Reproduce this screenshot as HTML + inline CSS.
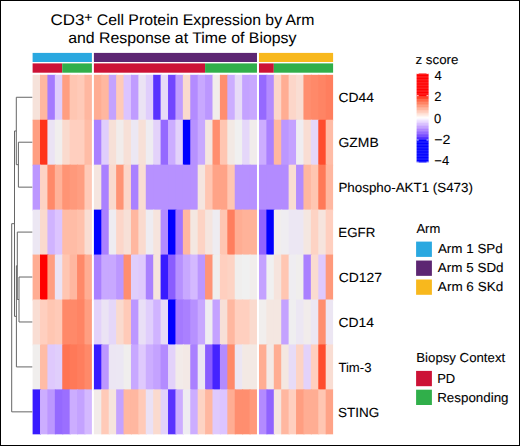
<!DOCTYPE html>
<html><head><meta charset="utf-8"><style>
html,body{margin:0;padding:0;background:#fff;}
#c{position:relative;width:520px;height:446px;overflow:hidden;background:#fff;}
#c svg{position:absolute;left:0;top:0;}
text{font-family:"Liberation Sans",sans-serif;fill:#000;stroke:#000;stroke-width:0.1px;text-rendering:geometricPrecision;}
#b{position:absolute;left:0;top:0;width:518px;height:444px;border:1px solid #000;}
</style></head><body><div id="c">
<svg width="520" height="446" viewBox="0 0 520 446" shape-rendering="auto">
<rect x="32.6" y="74.8" width="8.41" height="45.94" fill="#F6E2DA"/>
<rect x="40.01" y="74.8" width="8.41" height="45.94" fill="#FFB7A0"/>
<rect x="47.42" y="74.8" width="8.41" height="45.94" fill="#A57AFF"/>
<rect x="54.84" y="74.8" width="8.41" height="45.94" fill="#E0CEFC"/>
<rect x="62.25" y="74.8" width="8.41" height="45.94" fill="#FF9E81"/>
<rect x="69.66" y="74.8" width="8.41" height="45.94" fill="#FFC6B2"/>
<rect x="77.07" y="74.8" width="8.41" height="45.94" fill="#FFCAB8"/>
<rect x="84.49" y="74.8" width="7.41" height="45.94" fill="#FFB7A0"/>
<rect x="93.9" y="74.8" width="8.41" height="45.94" fill="#FFAD93"/>
<rect x="101.31" y="74.8" width="8.41" height="45.94" fill="#FFB7A0"/>
<rect x="108.73" y="74.8" width="8.41" height="45.94" fill="#C4A2FF"/>
<rect x="116.14" y="74.8" width="8.41" height="45.94" fill="#FFCAB8"/>
<rect x="123.55" y="74.8" width="8.41" height="45.94" fill="#DCC4FF"/>
<rect x="130.96" y="74.8" width="8.41" height="45.94" fill="#C09CFF"/>
<rect x="138.38" y="74.8" width="8.41" height="45.94" fill="#EBE3F4"/>
<rect x="145.79" y="74.8" width="8.41" height="45.94" fill="#E0CEFC"/>
<rect x="153.2" y="74.8" width="8.41" height="45.94" fill="#5932FF"/>
<rect x="160.61" y="74.8" width="8.41" height="45.94" fill="#E7DBF7"/>
<rect x="168.03" y="74.8" width="8.41" height="45.94" fill="#7145FF"/>
<rect x="175.44" y="74.8" width="8.41" height="45.94" fill="#C09CFF"/>
<rect x="182.85" y="74.8" width="8.41" height="45.94" fill="#FADACE"/>
<rect x="190.26" y="74.8" width="8.41" height="45.94" fill="#B38BFF"/>
<rect x="197.68" y="74.8" width="8.41" height="45.94" fill="#C8A8FF"/>
<rect x="205.09" y="74.8" width="8.41" height="45.94" fill="#BC97FF"/>
<rect x="212.5" y="74.8" width="8.41" height="45.94" fill="#F1ECEB"/>
<rect x="219.91" y="74.8" width="8.41" height="45.94" fill="#FF8E6F"/>
<rect x="227.32" y="74.8" width="8.41" height="45.94" fill="#CCADFF"/>
<rect x="234.74" y="74.8" width="8.41" height="45.94" fill="#E7DBF7"/>
<rect x="242.15" y="74.8" width="8.41" height="45.94" fill="#C4A2FF"/>
<rect x="249.56" y="74.8" width="7.41" height="45.94" fill="#C8A8FF"/>
<rect x="258.98" y="74.8" width="8.41" height="45.94" fill="#9569FF"/>
<rect x="266.39" y="74.8" width="8.41" height="45.94" fill="#B38BFF"/>
<rect x="273.8" y="74.8" width="8.41" height="45.94" fill="#FCD6C9"/>
<rect x="281.21" y="74.8" width="8.41" height="45.94" fill="#FFAD93"/>
<rect x="288.62" y="74.8" width="8.41" height="45.94" fill="#FCD6C9"/>
<rect x="296.04" y="74.8" width="8.41" height="45.94" fill="#F9DDD3"/>
<rect x="303.45" y="74.8" width="8.41" height="45.94" fill="#FF8E6F"/>
<rect x="310.86" y="74.8" width="8.41" height="45.94" fill="#FF8969"/>
<rect x="318.28" y="74.8" width="8.41" height="45.94" fill="#FF8464"/>
<rect x="325.69" y="74.8" width="7.41" height="45.94" fill="#FF7E5E"/>
<rect x="32.6" y="119.74" width="8.41" height="45.94" fill="#FF9E81"/>
<rect x="40.01" y="119.74" width="8.41" height="45.94" fill="#FF341B"/>
<rect x="47.42" y="119.74" width="8.41" height="45.94" fill="#EBE3F4"/>
<rect x="54.84" y="119.74" width="8.41" height="45.94" fill="#F1EEED"/>
<rect x="62.25" y="119.74" width="8.41" height="45.94" fill="#FADACE"/>
<rect x="69.66" y="119.74" width="8.41" height="45.94" fill="#FFCFBF"/>
<rect x="77.07" y="119.74" width="8.41" height="45.94" fill="#FFCFBF"/>
<rect x="84.49" y="119.74" width="7.41" height="45.94" fill="#FFBCA6"/>
<rect x="93.9" y="119.74" width="8.41" height="45.94" fill="#AA80FF"/>
<rect x="101.31" y="119.74" width="8.41" height="45.94" fill="#E0CEFC"/>
<rect x="108.73" y="119.74" width="8.41" height="45.94" fill="#F7E0D7"/>
<rect x="116.14" y="119.74" width="8.41" height="45.94" fill="#F1ECEB"/>
<rect x="123.55" y="119.74" width="8.41" height="45.94" fill="#F7E0D7"/>
<rect x="130.96" y="119.74" width="8.41" height="45.94" fill="#ECE7F3"/>
<rect x="138.38" y="119.74" width="8.41" height="45.94" fill="#F7E0D7"/>
<rect x="145.79" y="119.74" width="8.41" height="45.94" fill="#EEECF1"/>
<rect x="153.2" y="119.74" width="8.41" height="45.94" fill="#E3D2FA"/>
<rect x="160.61" y="119.74" width="8.41" height="45.94" fill="#9569FF"/>
<rect x="168.03" y="119.74" width="8.41" height="45.94" fill="#CCADFF"/>
<rect x="175.44" y="119.74" width="8.41" height="45.94" fill="#E3D2FA"/>
<rect x="182.85" y="119.74" width="8.41" height="45.94" fill="#0000FF"/>
<rect x="190.26" y="119.74" width="8.41" height="45.94" fill="#B791FF"/>
<rect x="197.68" y="119.74" width="8.41" height="45.94" fill="#C8A8FF"/>
<rect x="205.09" y="119.74" width="8.41" height="45.94" fill="#F5E5DF"/>
<rect x="212.5" y="119.74" width="8.41" height="45.94" fill="#FF8E6F"/>
<rect x="219.91" y="119.74" width="8.41" height="45.94" fill="#FFC6B2"/>
<rect x="227.32" y="119.74" width="8.41" height="45.94" fill="#F3E9E4"/>
<rect x="234.74" y="119.74" width="8.41" height="45.94" fill="#F0F0F0"/>
<rect x="242.15" y="119.74" width="8.41" height="45.94" fill="#E5D7F9"/>
<rect x="249.56" y="119.74" width="7.41" height="45.94" fill="#F1ECEB"/>
<rect x="258.98" y="119.74" width="8.41" height="45.94" fill="#CCADFF"/>
<rect x="266.39" y="119.74" width="8.41" height="45.94" fill="#AA80FF"/>
<rect x="273.8" y="119.74" width="8.41" height="45.94" fill="#FFB7A0"/>
<rect x="281.21" y="119.74" width="8.41" height="45.94" fill="#BC97FF"/>
<rect x="288.62" y="119.74" width="8.41" height="45.94" fill="#C4A2FF"/>
<rect x="296.04" y="119.74" width="8.41" height="45.94" fill="#EFEDF1"/>
<rect x="303.45" y="119.74" width="8.41" height="45.94" fill="#F9DDD3"/>
<rect x="310.86" y="119.74" width="8.41" height="45.94" fill="#E5D7F9"/>
<rect x="318.28" y="119.74" width="8.41" height="45.94" fill="#FF4D2E"/>
<rect x="325.69" y="119.74" width="7.41" height="45.94" fill="#FFBCA6"/>
<rect x="32.6" y="164.68" width="8.41" height="45.94" fill="#BC97FF"/>
<rect x="40.01" y="164.68" width="8.41" height="45.94" fill="#FDD3C4"/>
<rect x="47.42" y="164.68" width="8.41" height="45.94" fill="#FF8969"/>
<rect x="54.84" y="164.68" width="8.41" height="45.94" fill="#FFB299"/>
<rect x="62.25" y="164.68" width="8.41" height="45.94" fill="#FF9475"/>
<rect x="69.66" y="164.68" width="8.41" height="45.94" fill="#FF997B"/>
<rect x="77.07" y="164.68" width="8.41" height="45.94" fill="#FF9E81"/>
<rect x="84.49" y="164.68" width="7.41" height="45.94" fill="#FFCAB8"/>
<rect x="93.9" y="164.68" width="8.41" height="45.94" fill="#F5E5DF"/>
<rect x="101.31" y="164.68" width="8.41" height="45.94" fill="#AA80FF"/>
<rect x="108.73" y="164.68" width="8.41" height="45.94" fill="#FADACE"/>
<rect x="116.14" y="164.68" width="8.41" height="45.94" fill="#FF9475"/>
<rect x="123.55" y="164.68" width="8.41" height="45.94" fill="#FCD6C9"/>
<rect x="130.96" y="164.68" width="8.41" height="45.94" fill="#AA80FF"/>
<rect x="138.38" y="164.68" width="8.41" height="45.94" fill="#F9DDD3"/>
<rect x="145.79" y="164.68" width="8.41" height="45.94" fill="#B791FF"/>
<rect x="153.2" y="164.68" width="8.41" height="45.94" fill="#B791FF"/>
<rect x="160.61" y="164.68" width="8.41" height="45.94" fill="#B791FF"/>
<rect x="168.03" y="164.68" width="8.41" height="45.94" fill="#B791FF"/>
<rect x="175.44" y="164.68" width="8.41" height="45.94" fill="#B791FF"/>
<rect x="182.85" y="164.68" width="8.41" height="45.94" fill="#B791FF"/>
<rect x="190.26" y="164.68" width="8.41" height="45.94" fill="#B791FF"/>
<rect x="197.68" y="164.68" width="8.41" height="45.94" fill="#F5E5DF"/>
<rect x="205.09" y="164.68" width="8.41" height="45.94" fill="#FFC6B2"/>
<rect x="212.5" y="164.68" width="8.41" height="45.94" fill="#FFA387"/>
<rect x="219.91" y="164.68" width="8.41" height="45.94" fill="#FFA387"/>
<rect x="227.32" y="164.68" width="8.41" height="45.94" fill="#FFC6B2"/>
<rect x="234.74" y="164.68" width="8.41" height="45.94" fill="#B791FF"/>
<rect x="242.15" y="164.68" width="8.41" height="45.94" fill="#B791FF"/>
<rect x="249.56" y="164.68" width="7.41" height="45.94" fill="#B791FF"/>
<rect x="258.98" y="164.68" width="8.41" height="45.94" fill="#B38BFF"/>
<rect x="266.39" y="164.68" width="8.41" height="45.94" fill="#B38BFF"/>
<rect x="273.8" y="164.68" width="8.41" height="45.94" fill="#B38BFF"/>
<rect x="281.21" y="164.68" width="8.41" height="45.94" fill="#B38BFF"/>
<rect x="288.62" y="164.68" width="8.41" height="45.94" fill="#F9DDD3"/>
<rect x="296.04" y="164.68" width="8.41" height="45.94" fill="#B38BFF"/>
<rect x="303.45" y="164.68" width="8.41" height="45.94" fill="#FFB7A0"/>
<rect x="310.86" y="164.68" width="8.41" height="45.94" fill="#FFC6B2"/>
<rect x="318.28" y="164.68" width="8.41" height="45.94" fill="#FF7958"/>
<rect x="325.69" y="164.68" width="7.41" height="45.94" fill="#FFB7A0"/>
<rect x="32.6" y="209.62" width="8.41" height="45.94" fill="#ECE7F3"/>
<rect x="40.01" y="209.62" width="8.41" height="45.94" fill="#FADACE"/>
<rect x="47.42" y="209.62" width="8.41" height="45.94" fill="#D0B3FF"/>
<rect x="54.84" y="209.62" width="8.41" height="45.94" fill="#DCC4FF"/>
<rect x="62.25" y="209.62" width="8.41" height="45.94" fill="#FFBCA6"/>
<rect x="69.66" y="209.62" width="8.41" height="45.94" fill="#FFBCA6"/>
<rect x="77.07" y="209.62" width="8.41" height="45.94" fill="#FFC1AC"/>
<rect x="84.49" y="209.62" width="7.41" height="45.94" fill="#F9DDD3"/>
<rect x="93.9" y="209.62" width="8.41" height="45.94" fill="#0000FF"/>
<rect x="101.31" y="209.62" width="8.41" height="45.94" fill="#AA80FF"/>
<rect x="108.73" y="209.62" width="8.41" height="45.94" fill="#EEECF1"/>
<rect x="116.14" y="209.62" width="8.41" height="45.94" fill="#FCD6C9"/>
<rect x="123.55" y="209.62" width="8.41" height="45.94" fill="#F7E0D7"/>
<rect x="130.96" y="209.62" width="8.41" height="45.94" fill="#FFB7A0"/>
<rect x="138.38" y="209.62" width="8.41" height="45.94" fill="#FADACE"/>
<rect x="145.79" y="209.62" width="8.41" height="45.94" fill="#EEECF1"/>
<rect x="153.2" y="209.62" width="8.41" height="45.94" fill="#F6E4DD"/>
<rect x="160.61" y="209.62" width="8.41" height="45.94" fill="#B38BFF"/>
<rect x="168.03" y="209.62" width="8.41" height="45.94" fill="#0000FF"/>
<rect x="175.44" y="209.62" width="8.41" height="45.94" fill="#A074FF"/>
<rect x="182.85" y="209.62" width="8.41" height="45.94" fill="#FFB7A0"/>
<rect x="190.26" y="209.62" width="8.41" height="45.94" fill="#F4E7E1"/>
<rect x="197.68" y="209.62" width="8.41" height="45.94" fill="#FDD3C4"/>
<rect x="205.09" y="209.62" width="8.41" height="45.94" fill="#F5E5DF"/>
<rect x="212.5" y="209.62" width="8.41" height="45.94" fill="#EEECF1"/>
<rect x="219.91" y="209.62" width="8.41" height="45.94" fill="#FFC6B2"/>
<rect x="227.32" y="209.62" width="8.41" height="45.94" fill="#FF7E5E"/>
<rect x="234.74" y="209.62" width="8.41" height="45.94" fill="#FFAD93"/>
<rect x="242.15" y="209.62" width="8.41" height="45.94" fill="#FFB299"/>
<rect x="249.56" y="209.62" width="7.41" height="45.94" fill="#FFB299"/>
<rect x="258.98" y="209.62" width="8.41" height="45.94" fill="#9063FF"/>
<rect x="266.39" y="209.62" width="8.41" height="45.94" fill="#0000FF"/>
<rect x="273.8" y="209.62" width="8.41" height="45.94" fill="#F1EEED"/>
<rect x="281.21" y="209.62" width="8.41" height="45.94" fill="#EFEDF1"/>
<rect x="288.62" y="209.62" width="8.41" height="45.94" fill="#ECE7F3"/>
<rect x="296.04" y="209.62" width="8.41" height="45.94" fill="#ECE7F3"/>
<rect x="303.45" y="209.62" width="8.41" height="45.94" fill="#F4E7E1"/>
<rect x="310.86" y="209.62" width="8.41" height="45.94" fill="#FDD3C4"/>
<rect x="318.28" y="209.62" width="8.41" height="45.94" fill="#F6E4DD"/>
<rect x="325.69" y="209.62" width="7.41" height="45.94" fill="#FFCFBF"/>
<rect x="32.6" y="254.56" width="8.41" height="45.94" fill="#FFAD93"/>
<rect x="40.01" y="254.56" width="8.41" height="45.94" fill="#FF0000"/>
<rect x="47.42" y="254.56" width="8.41" height="45.94" fill="#FF9E81"/>
<rect x="54.84" y="254.56" width="8.41" height="45.94" fill="#EBE3F4"/>
<rect x="62.25" y="254.56" width="8.41" height="45.94" fill="#FFC6B2"/>
<rect x="69.66" y="254.56" width="8.41" height="45.94" fill="#FFB7A0"/>
<rect x="77.07" y="254.56" width="8.41" height="45.94" fill="#FF8969"/>
<rect x="84.49" y="254.56" width="7.41" height="45.94" fill="#FFAD93"/>
<rect x="93.9" y="254.56" width="8.41" height="45.94" fill="#AA80FF"/>
<rect x="101.31" y="254.56" width="8.41" height="45.94" fill="#C8A8FF"/>
<rect x="108.73" y="254.56" width="8.41" height="45.94" fill="#C8A8FF"/>
<rect x="116.14" y="254.56" width="8.41" height="45.94" fill="#BC97FF"/>
<rect x="123.55" y="254.56" width="8.41" height="45.94" fill="#FF8E6F"/>
<rect x="130.96" y="254.56" width="8.41" height="45.94" fill="#E0CEFC"/>
<rect x="138.38" y="254.56" width="8.41" height="45.94" fill="#DFC9FD"/>
<rect x="145.79" y="254.56" width="8.41" height="45.94" fill="#AA80FF"/>
<rect x="153.2" y="254.56" width="8.41" height="45.94" fill="#F6E4DD"/>
<rect x="160.61" y="254.56" width="8.41" height="45.94" fill="#381BFF"/>
<rect x="168.03" y="254.56" width="8.41" height="45.94" fill="#8A5DFF"/>
<rect x="175.44" y="254.56" width="8.41" height="45.94" fill="#B791FF"/>
<rect x="182.85" y="254.56" width="8.41" height="45.94" fill="#C8A8FF"/>
<rect x="190.26" y="254.56" width="8.41" height="45.94" fill="#D4B9FF"/>
<rect x="197.68" y="254.56" width="8.41" height="45.94" fill="#BC97FF"/>
<rect x="205.09" y="254.56" width="8.41" height="45.94" fill="#FF9475"/>
<rect x="212.5" y="254.56" width="8.41" height="45.94" fill="#F0EEED"/>
<rect x="219.91" y="254.56" width="8.41" height="45.94" fill="#FFCFBF"/>
<rect x="227.32" y="254.56" width="8.41" height="45.94" fill="#FDD3C4"/>
<rect x="234.74" y="254.56" width="8.41" height="45.94" fill="#F0EEED"/>
<rect x="242.15" y="254.56" width="8.41" height="45.94" fill="#F0F0F0"/>
<rect x="249.56" y="254.56" width="7.41" height="45.94" fill="#F1EDEC"/>
<rect x="258.98" y="254.56" width="8.41" height="45.94" fill="#C4A2FF"/>
<rect x="266.39" y="254.56" width="8.41" height="45.94" fill="#F0F0F0"/>
<rect x="273.8" y="254.56" width="8.41" height="45.94" fill="#F6E4DD"/>
<rect x="281.21" y="254.56" width="8.41" height="45.94" fill="#FFC6B2"/>
<rect x="288.62" y="254.56" width="8.41" height="45.94" fill="#EFEDF1"/>
<rect x="296.04" y="254.56" width="8.41" height="45.94" fill="#F0EEED"/>
<rect x="303.45" y="254.56" width="8.41" height="45.94" fill="#AA80FF"/>
<rect x="310.86" y="254.56" width="8.41" height="45.94" fill="#FADBD0"/>
<rect x="318.28" y="254.56" width="8.41" height="45.94" fill="#DFC9FD"/>
<rect x="325.69" y="254.56" width="7.41" height="45.94" fill="#FF997B"/>
<rect x="32.6" y="299.5" width="8.41" height="45.94" fill="#F9DDD3"/>
<rect x="40.01" y="299.5" width="8.41" height="45.94" fill="#FFCFBF"/>
<rect x="47.42" y="299.5" width="8.41" height="45.94" fill="#FFC6B2"/>
<rect x="54.84" y="299.5" width="8.41" height="45.94" fill="#FFCAB8"/>
<rect x="62.25" y="299.5" width="8.41" height="45.94" fill="#FF8969"/>
<rect x="69.66" y="299.5" width="8.41" height="45.94" fill="#FF8969"/>
<rect x="77.07" y="299.5" width="8.41" height="45.94" fill="#FF8464"/>
<rect x="84.49" y="299.5" width="7.41" height="45.94" fill="#FF9E81"/>
<rect x="93.9" y="299.5" width="8.41" height="45.94" fill="#E3D2FA"/>
<rect x="101.31" y="299.5" width="8.41" height="45.94" fill="#EBE3F4"/>
<rect x="108.73" y="299.5" width="8.41" height="45.94" fill="#E5D7F9"/>
<rect x="116.14" y="299.5" width="8.41" height="45.94" fill="#FADACE"/>
<rect x="123.55" y="299.5" width="8.41" height="45.94" fill="#FFCAB8"/>
<rect x="130.96" y="299.5" width="8.41" height="45.94" fill="#BC97FF"/>
<rect x="138.38" y="299.5" width="8.41" height="45.94" fill="#E9DFF6"/>
<rect x="145.79" y="299.5" width="8.41" height="45.94" fill="#E0CEFC"/>
<rect x="153.2" y="299.5" width="8.41" height="45.94" fill="#D0B3FF"/>
<rect x="160.61" y="299.5" width="8.41" height="45.94" fill="#E7DBF7"/>
<rect x="168.03" y="299.5" width="8.41" height="45.94" fill="#0000FF"/>
<rect x="175.44" y="299.5" width="8.41" height="45.94" fill="#A57AFF"/>
<rect x="182.85" y="299.5" width="8.41" height="45.94" fill="#AA80FF"/>
<rect x="190.26" y="299.5" width="8.41" height="45.94" fill="#B791FF"/>
<rect x="197.68" y="299.5" width="8.41" height="45.94" fill="#C8A8FF"/>
<rect x="205.09" y="299.5" width="8.41" height="45.94" fill="#EFEDF1"/>
<rect x="212.5" y="299.5" width="8.41" height="45.94" fill="#C4A2FF"/>
<rect x="219.91" y="299.5" width="8.41" height="45.94" fill="#F7E0D7"/>
<rect x="227.32" y="299.5" width="8.41" height="45.94" fill="#FFB7A0"/>
<rect x="234.74" y="299.5" width="8.41" height="45.94" fill="#FFCFBF"/>
<rect x="242.15" y="299.5" width="8.41" height="45.94" fill="#FFCFBF"/>
<rect x="249.56" y="299.5" width="7.41" height="45.94" fill="#FADACE"/>
<rect x="258.98" y="299.5" width="8.41" height="45.94" fill="#F1EEED"/>
<rect x="266.39" y="299.5" width="8.41" height="45.94" fill="#F4E7E1"/>
<rect x="273.8" y="299.5" width="8.41" height="45.94" fill="#F4E7E1"/>
<rect x="281.21" y="299.5" width="8.41" height="45.94" fill="#C4A2FF"/>
<rect x="288.62" y="299.5" width="8.41" height="45.94" fill="#EFEEF0"/>
<rect x="296.04" y="299.5" width="8.41" height="45.94" fill="#ECE7F3"/>
<rect x="303.45" y="299.5" width="8.41" height="45.94" fill="#F1ECEB"/>
<rect x="310.86" y="299.5" width="8.41" height="45.94" fill="#ECE7F3"/>
<rect x="318.28" y="299.5" width="8.41" height="45.94" fill="#FF8E6F"/>
<rect x="325.69" y="299.5" width="7.41" height="45.94" fill="#ECE6F3"/>
<rect x="32.6" y="344.44" width="8.41" height="45.94" fill="#F0EEED"/>
<rect x="40.01" y="344.44" width="8.41" height="45.94" fill="#FFBCA6"/>
<rect x="47.42" y="344.44" width="8.41" height="45.94" fill="#DFC9FD"/>
<rect x="54.84" y="344.44" width="8.41" height="45.94" fill="#E0CEFC"/>
<rect x="62.25" y="344.44" width="8.41" height="45.94" fill="#FF7352"/>
<rect x="69.66" y="344.44" width="8.41" height="45.94" fill="#FF7958"/>
<rect x="77.07" y="344.44" width="8.41" height="45.94" fill="#FF7E5E"/>
<rect x="84.49" y="344.44" width="7.41" height="45.94" fill="#FF8969"/>
<rect x="93.9" y="344.44" width="8.41" height="45.94" fill="#381BFF"/>
<rect x="101.31" y="344.44" width="8.41" height="45.94" fill="#BC97FF"/>
<rect x="108.73" y="344.44" width="8.41" height="45.94" fill="#ECE6F3"/>
<rect x="116.14" y="344.44" width="8.41" height="45.94" fill="#ECE7F3"/>
<rect x="123.55" y="344.44" width="8.41" height="45.94" fill="#F0EEED"/>
<rect x="130.96" y="344.44" width="8.41" height="45.94" fill="#C8A8FF"/>
<rect x="138.38" y="344.44" width="8.41" height="45.94" fill="#DFC9FD"/>
<rect x="145.79" y="344.44" width="8.41" height="45.94" fill="#CCADFF"/>
<rect x="153.2" y="344.44" width="8.41" height="45.94" fill="#C4A2FF"/>
<rect x="160.61" y="344.44" width="8.41" height="45.94" fill="#B38BFF"/>
<rect x="168.03" y="344.44" width="8.41" height="45.94" fill="#E3D2FA"/>
<rect x="175.44" y="344.44" width="8.41" height="45.94" fill="#F2EBE9"/>
<rect x="182.85" y="344.44" width="8.41" height="45.94" fill="#F3E9E6"/>
<rect x="190.26" y="344.44" width="8.41" height="45.94" fill="#AA80FF"/>
<rect x="197.68" y="344.44" width="8.41" height="45.94" fill="#ECE6F3"/>
<rect x="205.09" y="344.44" width="8.41" height="45.94" fill="#8A5DFF"/>
<rect x="212.5" y="344.44" width="8.41" height="45.94" fill="#4523FF"/>
<rect x="219.91" y="344.44" width="8.41" height="45.94" fill="#B38BFF"/>
<rect x="227.32" y="344.44" width="8.41" height="45.94" fill="#FF8969"/>
<rect x="234.74" y="344.44" width="8.41" height="45.94" fill="#ECE6F3"/>
<rect x="242.15" y="344.44" width="8.41" height="45.94" fill="#F3E9E4"/>
<rect x="249.56" y="344.44" width="7.41" height="45.94" fill="#F3E9E4"/>
<rect x="258.98" y="344.44" width="8.41" height="45.94" fill="#FFAD93"/>
<rect x="266.39" y="344.44" width="8.41" height="45.94" fill="#F3E9E6"/>
<rect x="273.8" y="344.44" width="8.41" height="45.94" fill="#FFAD93"/>
<rect x="281.21" y="344.44" width="8.41" height="45.94" fill="#F4E7E1"/>
<rect x="288.62" y="344.44" width="8.41" height="45.94" fill="#E7DBF7"/>
<rect x="296.04" y="344.44" width="8.41" height="45.94" fill="#FDD3C4"/>
<rect x="303.45" y="344.44" width="8.41" height="45.94" fill="#E3D2FA"/>
<rect x="310.86" y="344.44" width="8.41" height="45.94" fill="#FFCFBF"/>
<rect x="318.28" y="344.44" width="8.41" height="45.94" fill="#FF4D2E"/>
<rect x="325.69" y="344.44" width="7.41" height="45.94" fill="#F9DDD3"/>
<rect x="32.6" y="389.38" width="8.41" height="44.94" fill="#381BFF"/>
<rect x="40.01" y="389.38" width="8.41" height="44.94" fill="#CCADFF"/>
<rect x="47.42" y="389.38" width="8.41" height="44.94" fill="#BC97FF"/>
<rect x="54.84" y="389.38" width="8.41" height="44.94" fill="#9569FF"/>
<rect x="62.25" y="389.38" width="8.41" height="44.94" fill="#9B6FFF"/>
<rect x="69.66" y="389.38" width="8.41" height="44.94" fill="#CCADFF"/>
<rect x="77.07" y="389.38" width="8.41" height="44.94" fill="#C4A2FF"/>
<rect x="84.49" y="389.38" width="7.41" height="44.94" fill="#D4B9FF"/>
<rect x="93.9" y="389.38" width="8.41" height="44.94" fill="#F2EBE9"/>
<rect x="101.31" y="389.38" width="8.41" height="44.94" fill="#FFCAB8"/>
<rect x="108.73" y="389.38" width="8.41" height="44.94" fill="#F6E4DD"/>
<rect x="116.14" y="389.38" width="8.41" height="44.94" fill="#C4A2FF"/>
<rect x="123.55" y="389.38" width="8.41" height="44.94" fill="#FFB7A0"/>
<rect x="130.96" y="389.38" width="8.41" height="44.94" fill="#FFB7A0"/>
<rect x="138.38" y="389.38" width="8.41" height="44.94" fill="#FFCAB8"/>
<rect x="145.79" y="389.38" width="8.41" height="44.94" fill="#EAE1F5"/>
<rect x="153.2" y="389.38" width="8.41" height="44.94" fill="#FADACE"/>
<rect x="160.61" y="389.38" width="8.41" height="44.94" fill="#E3D2FA"/>
<rect x="168.03" y="389.38" width="8.41" height="44.94" fill="#5932FF"/>
<rect x="175.44" y="389.38" width="8.41" height="44.94" fill="#CCADFF"/>
<rect x="182.85" y="389.38" width="8.41" height="44.94" fill="#EEECF1"/>
<rect x="190.26" y="389.38" width="8.41" height="44.94" fill="#CCADFF"/>
<rect x="197.68" y="389.38" width="8.41" height="44.94" fill="#FDD3C4"/>
<rect x="205.09" y="389.38" width="8.41" height="44.94" fill="#FFB7A0"/>
<rect x="212.5" y="389.38" width="8.41" height="44.94" fill="#DFC9FD"/>
<rect x="219.91" y="389.38" width="8.41" height="44.94" fill="#DCC4FF"/>
<rect x="227.32" y="389.38" width="8.41" height="44.94" fill="#FFAD93"/>
<rect x="234.74" y="389.38" width="8.41" height="44.94" fill="#FF8E6F"/>
<rect x="242.15" y="389.38" width="8.41" height="44.94" fill="#FF8E6F"/>
<rect x="249.56" y="389.38" width="7.41" height="44.94" fill="#FF997B"/>
<rect x="258.98" y="389.38" width="8.41" height="44.94" fill="#B38BFF"/>
<rect x="266.39" y="389.38" width="8.41" height="44.94" fill="#9063FF"/>
<rect x="273.8" y="389.38" width="8.41" height="44.94" fill="#F5E5DF"/>
<rect x="281.21" y="389.38" width="8.41" height="44.94" fill="#FFB7A0"/>
<rect x="288.62" y="389.38" width="8.41" height="44.94" fill="#FFCFBF"/>
<rect x="296.04" y="389.38" width="8.41" height="44.94" fill="#FF9E81"/>
<rect x="303.45" y="389.38" width="8.41" height="44.94" fill="#FFAD93"/>
<rect x="310.86" y="389.38" width="8.41" height="44.94" fill="#FFAD93"/>
<rect x="318.28" y="389.38" width="8.41" height="44.94" fill="#FFC6B2"/>
<rect x="325.69" y="389.38" width="7.41" height="44.94" fill="#FFA387"/>
<rect x="32.6" y="52.9" width="59.3" height="9.1" fill="#2AA8E0"/>
<rect x="93.9" y="52.9" width="163.08" height="9.1" fill="#5C2672"/>
<rect x="258.98" y="52.9" width="74.12" height="9.1" fill="#F8B81D"/>
<rect x="32.6" y="63.4" width="29.65" height="9.3" fill="#CC1236"/>
<rect x="62.25" y="63.4" width="29.65" height="9.3" fill="#30AF4A"/>
<rect x="93.9" y="63.4" width="111.19" height="9.3" fill="#CC1236"/>
<rect x="205.09" y="63.4" width="51.89" height="9.3" fill="#30AF4A"/>
<rect x="258.98" y="63.4" width="14.82" height="9.3" fill="#CC1236"/>
<rect x="273.8" y="63.4" width="59.3" height="9.3" fill="#30AF4A"/>
<line x1="18.4" y1="142.21" x2="32.3" y2="142.21" stroke="#666" stroke-width="1"/>
<line x1="18.4" y1="187.15" x2="32.3" y2="187.15" stroke="#666" stroke-width="1"/>
<line x1="18.4" y1="142.21" x2="18.4" y2="187.15" stroke="#666" stroke-width="1"/>
<line x1="16.3" y1="97.27" x2="32.3" y2="97.27" stroke="#666" stroke-width="1"/>
<line x1="16.3" y1="164.68" x2="18.4" y2="164.68" stroke="#666" stroke-width="1"/>
<line x1="16.3" y1="97.27" x2="16.3" y2="164.68" stroke="#666" stroke-width="1"/>
<line x1="19.0" y1="277.03" x2="32.3" y2="277.03" stroke="#666" stroke-width="1"/>
<line x1="19.0" y1="321.97" x2="32.3" y2="321.97" stroke="#666" stroke-width="1"/>
<line x1="19.0" y1="277.03" x2="19.0" y2="321.97" stroke="#666" stroke-width="1"/>
<line x1="17.3" y1="232.09" x2="32.3" y2="232.09" stroke="#666" stroke-width="1"/>
<line x1="17.3" y1="299.5" x2="19.0" y2="299.5" stroke="#666" stroke-width="1"/>
<line x1="17.3" y1="232.09" x2="17.3" y2="299.5" stroke="#666" stroke-width="1"/>
<line x1="16.4" y1="265.79" x2="17.3" y2="265.79" stroke="#666" stroke-width="1"/>
<line x1="16.4" y1="366.91" x2="32.3" y2="366.91" stroke="#666" stroke-width="1"/>
<line x1="16.4" y1="265.79" x2="16.4" y2="366.91" stroke="#666" stroke-width="1"/>
<line x1="14.5" y1="130.97" x2="16.3" y2="130.97" stroke="#666" stroke-width="1"/>
<line x1="14.5" y1="316.35" x2="16.4" y2="316.35" stroke="#666" stroke-width="1"/>
<line x1="14.5" y1="130.97" x2="14.5" y2="316.35" stroke="#666" stroke-width="1"/>
<line x1="11.7" y1="223.66" x2="14.5" y2="223.66" stroke="#666" stroke-width="1"/>
<line x1="11.7" y1="411.85" x2="32.3" y2="411.85" stroke="#666" stroke-width="1"/>
<line x1="11.7" y1="223.66" x2="11.7" y2="411.85" stroke="#666" stroke-width="1"/>
<rect x="416.7" y="73.5" width="11.8" height="1.04" fill="#FF0000"/>
<rect x="416.7" y="74.24" width="11.8" height="1.04" fill="#FF0000"/>
<rect x="416.7" y="74.98" width="11.8" height="1.04" fill="#FF0000"/>
<rect x="416.7" y="75.72" width="11.8" height="1.04" fill="#FF0000"/>
<rect x="416.7" y="76.46" width="11.8" height="1.04" fill="#FF0000"/>
<rect x="416.7" y="77.2" width="11.8" height="1.04" fill="#FF0000"/>
<rect x="416.7" y="77.94" width="11.8" height="1.04" fill="#FF0000"/>
<rect x="416.7" y="78.67" width="11.8" height="1.04" fill="#FF0000"/>
<rect x="416.7" y="79.41" width="11.8" height="1.04" fill="#FF0000"/>
<rect x="416.7" y="80.15" width="11.8" height="1.04" fill="#FF0000"/>
<rect x="416.7" y="80.89" width="11.8" height="1.04" fill="#FF0000"/>
<rect x="416.7" y="81.63" width="11.8" height="1.04" fill="#FF0000"/>
<rect x="416.7" y="82.37" width="11.8" height="1.04" fill="#FF0000"/>
<rect x="416.7" y="83.11" width="11.8" height="1.04" fill="#FF0000"/>
<rect x="416.7" y="83.85" width="11.8" height="1.04" fill="#FF0000"/>
<rect x="416.7" y="84.59" width="11.8" height="1.04" fill="#FF0000"/>
<rect x="416.7" y="85.33" width="11.8" height="1.04" fill="#FF0000"/>
<rect x="416.7" y="86.07" width="11.8" height="1.04" fill="#FF0000"/>
<rect x="416.7" y="86.81" width="11.8" height="1.04" fill="#FF0000"/>
<rect x="416.7" y="87.54" width="11.8" height="1.04" fill="#FF0000"/>
<rect x="416.7" y="88.28" width="11.8" height="1.04" fill="#FF0000"/>
<rect x="416.7" y="89.02" width="11.8" height="1.04" fill="#FF0000"/>
<rect x="416.7" y="89.76" width="11.8" height="1.04" fill="#FF0000"/>
<rect x="416.7" y="90.5" width="11.8" height="1.04" fill="#FF0000"/>
<rect x="416.7" y="91.24" width="11.8" height="1.04" fill="#FF0000"/>
<rect x="416.7" y="91.98" width="11.8" height="1.04" fill="#FF0000"/>
<rect x="416.7" y="92.72" width="11.8" height="1.04" fill="#FF0000"/>
<rect x="416.7" y="93.46" width="11.8" height="1.04" fill="#FF0000"/>
<rect x="416.7" y="94.2" width="11.8" height="1.04" fill="#FF0000"/>
<rect x="416.7" y="94.94" width="11.8" height="1.04" fill="#FF0000"/>
<rect x="416.7" y="95.67" width="11.8" height="1.04" fill="#FF1506"/>
<rect x="416.7" y="96.41" width="11.8" height="1.04" fill="#FF2913"/>
<rect x="416.7" y="97.15" width="11.8" height="1.04" fill="#FF381D"/>
<rect x="416.7" y="97.89" width="11.8" height="1.04" fill="#FF4326"/>
<rect x="416.7" y="98.63" width="11.8" height="1.04" fill="#FF4D2E"/>
<rect x="416.7" y="99.37" width="11.8" height="1.04" fill="#FF5736"/>
<rect x="416.7" y="100.11" width="11.8" height="1.04" fill="#FF5F3E"/>
<rect x="416.7" y="100.85" width="11.8" height="1.04" fill="#FF6846"/>
<rect x="416.7" y="101.59" width="11.8" height="1.04" fill="#FF6F4E"/>
<rect x="416.7" y="102.33" width="11.8" height="1.04" fill="#FF7756"/>
<rect x="416.7" y="103.07" width="11.8" height="1.04" fill="#FF7E5E"/>
<rect x="416.7" y="103.81" width="11.8" height="1.04" fill="#FF8665"/>
<rect x="416.7" y="104.55" width="11.8" height="1.04" fill="#FF8D6D"/>
<rect x="416.7" y="105.28" width="11.8" height="1.04" fill="#FF9475"/>
<rect x="416.7" y="106.02" width="11.8" height="1.04" fill="#FF9B7D"/>
<rect x="416.7" y="106.76" width="11.8" height="1.04" fill="#FFA185"/>
<rect x="416.7" y="107.5" width="11.8" height="1.04" fill="#FFA88D"/>
<rect x="416.7" y="108.24" width="11.8" height="1.04" fill="#FFAF95"/>
<rect x="416.7" y="108.98" width="11.8" height="1.04" fill="#FFB59E"/>
<rect x="416.7" y="109.72" width="11.8" height="1.04" fill="#FFBCA6"/>
<rect x="416.7" y="110.46" width="11.8" height="1.04" fill="#FFC2AE"/>
<rect x="416.7" y="111.2" width="11.8" height="1.04" fill="#FFC9B6"/>
<rect x="416.7" y="111.94" width="11.8" height="1.04" fill="#FFCFBF"/>
<rect x="416.7" y="112.68" width="11.8" height="1.04" fill="#FFD6C7"/>
<rect x="416.7" y="113.41" width="11.8" height="1.04" fill="#FFDCD0"/>
<rect x="416.7" y="114.15" width="11.8" height="1.04" fill="#FFE2D8"/>
<rect x="416.7" y="114.89" width="11.8" height="1.04" fill="#FFE9E1"/>
<rect x="416.7" y="115.63" width="11.8" height="1.04" fill="#FFEFE9"/>
<rect x="416.7" y="116.37" width="11.8" height="1.04" fill="#FFF5F2"/>
<rect x="416.7" y="117.11" width="11.8" height="1.04" fill="#FFFCFB"/>
<rect x="416.7" y="117.85" width="11.8" height="1.04" fill="#FDFBFF"/>
<rect x="416.7" y="118.59" width="11.8" height="1.04" fill="#F8F3FF"/>
<rect x="416.7" y="119.33" width="11.8" height="1.04" fill="#F4EBFF"/>
<rect x="416.7" y="120.07" width="11.8" height="1.04" fill="#EFE4FF"/>
<rect x="416.7" y="120.81" width="11.8" height="1.04" fill="#EBDCFF"/>
<rect x="416.7" y="121.55" width="11.8" height="1.04" fill="#E6D4FF"/>
<rect x="416.7" y="122.28" width="11.8" height="1.04" fill="#E1CCFF"/>
<rect x="416.7" y="123.02" width="11.8" height="1.04" fill="#DCC4FF"/>
<rect x="416.7" y="123.76" width="11.8" height="1.04" fill="#D7BDFF"/>
<rect x="416.7" y="124.5" width="11.8" height="1.04" fill="#D2B5FF"/>
<rect x="416.7" y="125.24" width="11.8" height="1.04" fill="#CCADFF"/>
<rect x="416.7" y="125.98" width="11.8" height="1.04" fill="#C7A6FF"/>
<rect x="416.7" y="126.72" width="11.8" height="1.04" fill="#C19EFF"/>
<rect x="416.7" y="127.46" width="11.8" height="1.04" fill="#BC97FF"/>
<rect x="416.7" y="128.2" width="11.8" height="1.04" fill="#B68FFF"/>
<rect x="416.7" y="128.94" width="11.8" height="1.04" fill="#B087FF"/>
<rect x="416.7" y="129.68" width="11.8" height="1.04" fill="#AA80FF"/>
<rect x="416.7" y="130.42" width="11.8" height="1.04" fill="#A378FF"/>
<rect x="416.7" y="131.16" width="11.8" height="1.04" fill="#9C71FF"/>
<rect x="416.7" y="131.89" width="11.8" height="1.04" fill="#9569FF"/>
<rect x="416.7" y="132.63" width="11.8" height="1.04" fill="#8E61FF"/>
<rect x="416.7" y="133.37" width="11.8" height="1.04" fill="#8659FF"/>
<rect x="416.7" y="134.11" width="11.8" height="1.04" fill="#7E52FF"/>
<rect x="416.7" y="134.85" width="11.8" height="1.04" fill="#7549FF"/>
<rect x="416.7" y="135.59" width="11.8" height="1.04" fill="#6C41FF"/>
<rect x="416.7" y="136.33" width="11.8" height="1.04" fill="#6239FF"/>
<rect x="416.7" y="137.07" width="11.8" height="1.04" fill="#5630FF"/>
<rect x="416.7" y="137.81" width="11.8" height="1.04" fill="#4926FF"/>
<rect x="416.7" y="138.55" width="11.8" height="1.04" fill="#381BFF"/>
<rect x="416.7" y="139.29" width="11.8" height="1.04" fill="#1E0BFF"/>
<rect x="416.7" y="140.02" width="11.8" height="1.04" fill="#0000FF"/>
<rect x="416.7" y="140.76" width="11.8" height="1.04" fill="#0000FF"/>
<rect x="416.7" y="141.5" width="11.8" height="1.04" fill="#0000FF"/>
<rect x="416.7" y="142.24" width="11.8" height="1.04" fill="#0000FF"/>
<rect x="416.7" y="142.98" width="11.8" height="1.04" fill="#0000FF"/>
<rect x="416.7" y="143.72" width="11.8" height="1.04" fill="#0000FF"/>
<rect x="416.7" y="144.46" width="11.8" height="1.04" fill="#0000FF"/>
<rect x="416.7" y="145.2" width="11.8" height="1.04" fill="#0000FF"/>
<rect x="416.7" y="145.94" width="11.8" height="1.04" fill="#0000FF"/>
<rect x="416.7" y="146.68" width="11.8" height="1.04" fill="#0000FF"/>
<rect x="416.7" y="147.42" width="11.8" height="1.04" fill="#0000FF"/>
<rect x="416.7" y="148.16" width="11.8" height="1.04" fill="#0000FF"/>
<rect x="416.7" y="148.89" width="11.8" height="1.04" fill="#0000FF"/>
<rect x="416.7" y="149.63" width="11.8" height="1.04" fill="#0000FF"/>
<rect x="416.7" y="150.37" width="11.8" height="1.04" fill="#0000FF"/>
<rect x="416.7" y="151.11" width="11.8" height="1.04" fill="#0000FF"/>
<rect x="416.7" y="151.85" width="11.8" height="1.04" fill="#0000FF"/>
<rect x="416.7" y="152.59" width="11.8" height="1.04" fill="#0000FF"/>
<rect x="416.7" y="153.33" width="11.8" height="1.04" fill="#0000FF"/>
<rect x="416.7" y="154.07" width="11.8" height="1.04" fill="#0000FF"/>
<rect x="416.7" y="154.81" width="11.8" height="1.04" fill="#0000FF"/>
<rect x="416.7" y="155.55" width="11.8" height="1.04" fill="#0000FF"/>
<rect x="416.7" y="156.29" width="11.8" height="1.04" fill="#0000FF"/>
<rect x="416.7" y="157.03" width="11.8" height="1.04" fill="#0000FF"/>
<rect x="416.7" y="157.76" width="11.8" height="1.04" fill="#0000FF"/>
<rect x="416.7" y="158.5" width="11.8" height="1.04" fill="#0000FF"/>
<rect x="416.7" y="159.24" width="11.8" height="1.04" fill="#0000FF"/>
<rect x="416.7" y="159.98" width="11.8" height="1.04" fill="#0000FF"/>
<rect x="416.7" y="160.72" width="11.8" height="1.04" fill="#0000FF"/>
<rect x="416.7" y="161.46" width="11.8" height="1.04" fill="#0000FF"/>
<line x1="416.7" y1="73.5" x2="418.7" y2="73.5" stroke="#fff" stroke-width="0.8"/>
<line x1="426.5" y1="73.5" x2="428.5" y2="73.5" stroke="#fff" stroke-width="0.8"/>
<line x1="416.7" y1="95.67" x2="418.7" y2="95.67" stroke="#fff" stroke-width="0.8"/>
<line x1="426.5" y1="95.67" x2="428.5" y2="95.67" stroke="#fff" stroke-width="0.8"/>
<line x1="416.7" y1="117.85" x2="418.7" y2="117.85" stroke="#fff" stroke-width="0.8"/>
<line x1="426.5" y1="117.85" x2="428.5" y2="117.85" stroke="#fff" stroke-width="0.8"/>
<line x1="416.7" y1="140.02" x2="418.7" y2="140.02" stroke="#fff" stroke-width="0.8"/>
<line x1="426.5" y1="140.02" x2="428.5" y2="140.02" stroke="#fff" stroke-width="0.8"/>
<line x1="416.7" y1="162.2" x2="418.7" y2="162.2" stroke="#fff" stroke-width="0.8"/>
<line x1="426.5" y1="162.2" x2="428.5" y2="162.2" stroke="#fff" stroke-width="0.8"/>
<rect x="416.1" y="241.6" width="15.8" height="15.3" fill="#2AA8E0"/>
<rect x="416.1" y="260.55" width="15.8" height="15.3" fill="#5C2672"/>
<rect x="416.1" y="279.5" width="15.8" height="15.3" fill="#F8B81D"/>
<rect x="416.1" y="370.9" width="15.8" height="15.3" fill="#CC1236"/>
<rect x="416.1" y="389.7" width="15.8" height="15.3" fill="#30AF4A"/>
<text id="t1a" x="50.47" y="24.70" font-size="15.4" textLength="33.84" lengthAdjust="spacingAndGlyphs" style="stroke-width:0.05px">CD3</text>
<text id="t1b" x="84.21" y="21.90" font-size="14" style="stroke-width:0.05px">+</text>
<text id="t1c" x="96.78" y="24.70" font-size="15.4" textLength="217.75" lengthAdjust="spacingAndGlyphs" style="stroke-width:0.05px">Cell Protein Expression by Arm</text>
<text id="t2" x="68.22" y="42.90" font-size="15.4" textLength="228.22" lengthAdjust="spacingAndGlyphs" style="stroke-width:0.05px">and Response at Time of Biopsy</text>
<text id="r0" x="338.45" y="102.22" font-size="13.2" textLength="35.47" lengthAdjust="spacingAndGlyphs">CD44</text>
<text id="r1" x="338.50" y="147.16" font-size="13.2" textLength="40.19" lengthAdjust="spacingAndGlyphs">GZMB</text>
<text id="r2" x="338.44" y="192.10" font-size="13.2" textLength="134.50" lengthAdjust="spacingAndGlyphs">Phospho-AKT1 (S473)</text>
<text id="r3" x="338.34" y="237.04" font-size="13.2" textLength="36.92" lengthAdjust="spacingAndGlyphs">EGFR</text>
<text id="r4" x="338.71" y="281.98" font-size="13.2" textLength="43.32" lengthAdjust="spacingAndGlyphs">CD127</text>
<text id="r5" x="338.51" y="326.92" font-size="13.2" textLength="35.57" lengthAdjust="spacingAndGlyphs">CD14</text>
<text id="r6" x="338.42" y="371.86" font-size="13.2" textLength="33.03" lengthAdjust="spacingAndGlyphs">Tim-3</text>
<text id="r7" x="338.05" y="416.80" font-size="13.2" textLength="41.19" lengthAdjust="spacingAndGlyphs">STING</text>
<text id="zs" x="415.52" y="64.20" font-size="13.0" textLength="42.88" lengthAdjust="spacingAndGlyphs">z score</text>
<text id="k4" x="434.51" y="79.90" font-size="13.0">4</text>
<text id="k2" x="434.22" y="101.20" font-size="13.0">2</text>
<text id="k0" x="433.89" y="122.50" font-size="13.0">0</text>
<text id="km2" x="434.22" y="143.80" font-size="13.0" textLength="16.23" lengthAdjust="spacingAndGlyphs">−2</text>
<text id="km4" x="434.35" y="165.10" font-size="13.0" textLength="14.78" lengthAdjust="spacingAndGlyphs">−4</text>
<text id="arm" x="416.39" y="232.60" font-size="13.0" textLength="23.85" lengthAdjust="spacingAndGlyphs">Arm</text>
<text id="a1" x="437.91" y="253.20" font-size="13.0" textLength="64.86" lengthAdjust="spacingAndGlyphs">Arm 1 SPd</text>
<text id="a5" x="437.89" y="272.20" font-size="13.0" textLength="65.72" lengthAdjust="spacingAndGlyphs">Arm 5 SDd</text>
<text id="a6" x="437.89" y="291.20" font-size="13.0" textLength="65.28" lengthAdjust="spacingAndGlyphs">Arm 6 SKd</text>
<text id="bc" x="416.29" y="362.10" font-size="13.0" textLength="88.89" lengthAdjust="spacingAndGlyphs">Biopsy Context</text>
<text id="pd" x="437.19" y="382.90" font-size="13.0" textLength="18.07" lengthAdjust="spacingAndGlyphs">PD</text>
<text id="rs" x="437.22" y="401.60" font-size="13.0" textLength="71.30" lengthAdjust="spacingAndGlyphs">Responding</text>
</svg><div id="b"></div></div></body></html>
